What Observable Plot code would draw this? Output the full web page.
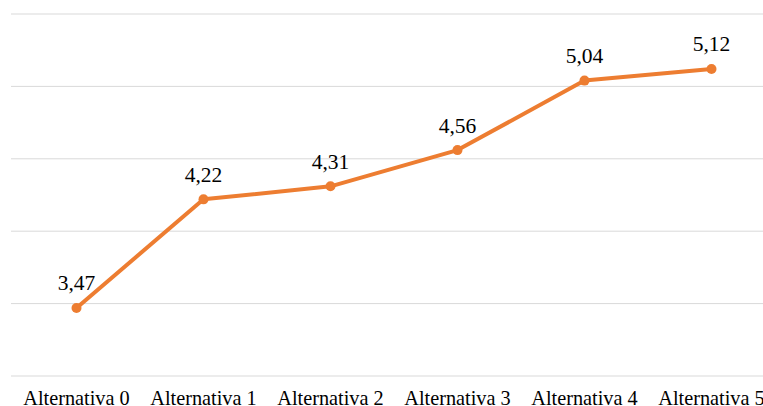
<!DOCTYPE html>
<html>
<head>
<meta charset="utf-8">
<script src="https://cdn.jsdelivr.net/npm/d3@7"></script>
<script src="https://cdn.jsdelivr.net/npm/@observablehq/plot@0.6"></script>
<style>
  html, body { margin: 0; padding: 0; background: #fff; overflow: hidden; }
  #chart svg { display: block; }
  #chart svg, #chart svg text { font-family: "Liberation Serif", "Times New Roman", serif !important; }
</style>
</head>
<body>
<div id="chart"></div>
<script>
const categories = ["Alternativa 0", "Alternativa 1", "Alternativa 2", "Alternativa 3", "Alternativa 4", "Alternativa 5"];
const values = [3.47, 4.22, 4.31, 4.56, 5.04, 5.12];
const gridTicks = [3, 3.5, 4, 4.5, 5, 5.5];

const data = categories.map((c, i) => ({ cat: c, v: values[i] }));
const fmt = v => v.toFixed(2).replace(".", ",");

const chart = Plot.plot({
  width: 763,
  height: 406,
  marginLeft: 11,
  marginRight: 0,
  marginTop: 13,
  marginBottom: 31,
  style: { background: "#fff", overflow: "hidden" },
  x: { type: "point", domain: categories, range: [75, 712], padding: 0, axis: null },
  y: { domain: [3, 5.5], range: [375.5, 13.5], axis: null },
  marks: [
    Plot.ruleY(gridTicks, { stroke: "#d9d9d9", strokeWidth: 1 }),
    Plot.axisX({ tickSize: 0, tickPadding: 15.5, fontSize: 20.3, label: null, fill: "#000" }),
    Plot.line(data, { x: "cat", y: "v", stroke: "#ED7D31", strokeWidth: 4, strokeLinejoin: "round", strokeLinecap: "round" }),
    Plot.dot(data, { x: "cat", y: "v", r: 5, fill: "#ED7D31", stroke: "none" }),
    Plot.text(data, { x: "cat", y: "v", text: d => fmt(d.v), dy: -24.5, fontSize: 21.5, fill: "#000" })
  ]
});
document.getElementById("chart").appendChild(chart);
</script>
</body>
</html>
